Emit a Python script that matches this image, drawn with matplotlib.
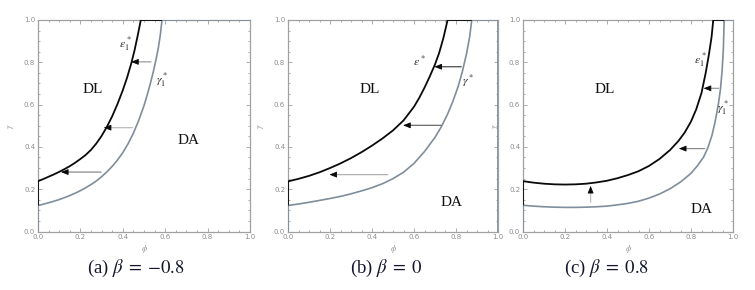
import matplotlib
matplotlib.use("Agg")
import matplotlib.pyplot as plt
import numpy as np

plt.rcParams['mathtext.fontset'] = 'stix'
plt.rcParams['font.family'] = ['DejaVu Sans']

# ---------------- data ----------------
# panel (a) beta = -0.8
a_eps_phi = [0, .025, .05, .075, .1, .125, .15, .175, .2, .225, .25, .275, .3, .325, .35, .375, .4,
             .42, .44, .455, .47, .485]
a_eps_gam = [.238, .248, .259, .270, .282, .295, .309, .325, .343, .362, .386, .416, .452, .495, .545,
             .603, .668, .727, .795, .855, .925, 1.0]
a_gam_phi = [0, .025, .05, .075, .1, .125, .15, .175, .2, .225, .25, .275, .3, .325, .35, .375, .4,
             .425, .45, .475, .5, .515, .53, .545, .557, .568, .577, .585]
a_gam_gam = [.123, .129, .136, .143, .151, .160, .170, .181, .193, .207, .222, .239, .259, .282, .308,
             .338, .373, .415, .465, .525, .595, .645, .70, .76, .815, .87, .93, 1.0]
a_arrow_tail = [(0.297, 0.281), (0.447, 0.491), (0.533, 0.802)]
a_arrow_head = [(0.108, 0.281), (0.31, 0.491), (0.439, 0.802)]

# panel (b) beta = 0
b_eps_phi = [0, .05, .1, .15, .2, .25, .3, .35, .4, .45, .5, .55, .6, .625, .65, .675, .7, .72, .74, .76]
b_eps_gam = [.237, .249, .263, .280, .300, .322, .347, .375, .406, .44, .478, .525, .59, .632, .68,
             .733, .79, .845, .915, 1.0]
b_gam_phi = [0, .05, .1, .15, .2, .25, .3, .35, .4, .45, .5, .55, .6, .65, .7, .73, .76, .785, .81,
             .83, .85, .865, .875]
b_gam_gam = [.123, .130, .138, .147, .156, .166, .178, .192, .207, .226, .25, .28, .322, .378, .445,
             .495, .555, .615, .685, .755, .84, .92, 1.0]
b_arrow_tail = [(0.475, 0.269), (0.729, 0.502), (0.825, 0.779)]
b_arrow_head = [(0.197, 0.269), (0.548, 0.502), (0.697, 0.779)]

# panel (c) beta = 0.8
c_eps_phi = [0, .05, .1, .15, .2, .25, .3, .35, .4, .45, .5, .55, .6, .65, .7, .74, .77, .8, .825,
             .85, .87, .885, .898, .906]
c_eps_gam = [.238, .231, .226, .223, .222, .223, .226, .232, .240, .252, .267, .285, .31, .343, .385,
             .428, .468, .52, .578, .655, .75, .835, .92, 1.0]
c_gam_phi = [0, .05, .1, .15, .2, .25, .3, .35, .4, .45, .5, .55, .6, .65, .7, .75, .8, .83, .86,
             .88, .9, .915, .93, .94, .948, .954, .958]
c_gam_gam = [.124, .12, .117, .115, .114, .114, .115, .117, .12, .126, .133, .143, .158, .177, .202,
             .234, .275, .31, .352, .395, .455, .52, .6, .67, .76, .86, 1.0]
c_arrow_tail = [(0.322, 0.138), (0.865, 0.392), (0.932, 0.677)]
c_arrow_head = [(0.322, 0.216), (0.742, 0.392), (0.86, 0.677)]

tick_values = [0.0, 0.2, 0.4, 0.6, 0.8, 1.0]
tick_labels = ["0.0", "0.2", "0.4", "0.6", "0.8", "1.0"]
captions = [r"(a) $\beta\;=\;{-0.8}$", r"(b) $\beta\;=\;0$", r"(c) $\beta\;=\;0.8$"]
eps_labels = [r"$\epsilon_1^*$", r"$\epsilon^*$", r"$\epsilon_1^*$"]
gam_labels = [r"$\gamma_1^*$", r"$\gamma^*$", r"$\gamma_1^*$"]

# ---------------- style ----------------
BLACK = "#0a0a0a"
GRAY = "#7f8e9c"
FRAME = "#a0a0a0"
TICKC = "#8c8c8c"
SERIF = "Liberation Serif"

W, H = 755, 290
fig = plt.figure(figsize=(W / 100, H / 100), dpi=100)

axes_px = [(38, 250), (288, 498), (523, 733)]
top_px, bot_px = 20, 231.5

panels = [
    dict(ep=a_eps_phi, eg=a_eps_gam, gp=a_gam_phi, gg=a_gam_gam, at=a_arrow_tail, ah=a_arrow_head,
         shaft=["#8a8a8a", "#bdbdbd", "#9a9a9a"],
         dl=(0.26, 0.67), da=(0.71, 0.43), el=(0.41, 0.885), gl=(0.585, 0.715), cap_x=136),
    dict(ep=b_eps_phi, eg=b_eps_gam, gp=b_gam_phi, gg=b_gam_gam, at=b_arrow_tail, ah=b_arrow_head,
         shaft=["#b0b0b0", "#6a6a6a", "#4a4a4a"],
         dl=(0.39, 0.67), da=(0.78, 0.135), el=(0.625, 0.80), gl=(0.86, 0.71), cap_x=386),
    dict(ep=c_eps_phi, eg=c_eps_gam, gp=c_gam_phi, gg=c_gam_gam, at=c_arrow_tail, ah=c_arrow_head,
         shaft=["#c0c0c0", "#8a8a8a", "#9a9a9a"],
         dl=(0.39, 0.67), da=(0.85, 0.105), el=(0.845, 0.81), gl=(0.955, 0.585), cap_x=607),
]

for i, (p, (x0, x1)) in enumerate(zip(panels, axes_px)):
    ax = fig.add_axes([x0 / W, 1 - bot_px / H, (x1 - x0) / W, (bot_px - top_px) / H])
    ax.set_xlim(0, 1)
    ax.set_ylim(0, 1)
    for s in ax.spines.values():
        s.set_color(FRAME)
        s.set_linewidth(0.9)
    ax.set_xticks(tick_values)
    ax.set_xticklabels(tick_labels)
    ax.set_yticks(tick_values)
    ax.set_yticklabels(tick_labels)
    ax.set_xticks(np.arange(0, 1.0001, 0.05), minor=True)
    ax.set_yticks(np.arange(0, 1.0001, 0.05), minor=True)
    ax.tick_params(which='both', direction='in', top=True, right=True, color=TICKC, width=0.5)
    ax.tick_params(which='major', length=3, labelsize=5, labelcolor=TICKC, pad=2)
    ax.tick_params(which='minor', length=1.5)
    ax.set_xlabel(r"$\phi$", fontsize=6, color=TICKC, labelpad=2)
    ax.set_ylabel(r"$\gamma$", fontsize=6, color=TICKC, labelpad=6)

    # gray curve gamma*, with vertical part on the left edge
    gp, gg = p['gp'], p['gg']
    ax.plot([0] + list(gp) + [1.0], [0] + list(gg) + [gg[-1]], color=GRAY, lw=1.2,
            solid_capstyle='butt', solid_joinstyle='round', zorder=3)
    # black curve eps*, vertical piece from gamma* start and flat part on top
    ep, eg = p['ep'], p['eg']
    ax.plot([0] + list(ep) + [gp[-1]], [gg[0]] + list(eg) + [eg[-1]], color=BLACK, lw=1.3,
            solid_capstyle='butt', solid_joinstyle='round', zorder=4)
    if i == 1:
        ax.plot([1.0, 1.0], [0, 1], color=GRAY, lw=2.0, zorder=3)

    # arrows
    for (tx, ty), (hx, hy), sc in zip(p['at'], p['ah'], p['shaft']):
        ax.annotate("", xy=(hx, hy), xytext=(tx, ty),
                    arrowprops=dict(arrowstyle='-', color=sc, lw=0.9, shrinkA=0, shrinkB=2),
                    zorder=5)
        dx, dy = hx - tx, hy - ty
        n = np.hypot(dx, dy)
        ax.annotate("", xy=(hx, hy), xytext=(hx - 0.03 * dx / n, hy - 0.03 * dy / n),
                    arrowprops=dict(arrowstyle='-|>,head_length=0.55,head_width=0.22',
                                    color=BLACK, lw=0.6, shrinkA=0, shrinkB=0,
                                    mutation_scale=8), zorder=6)

    ax.text(*p['dl'], "DL", fontsize=11, family=SERIF, ha='center', va='center', color="#111111")
    ax.text(*p['da'], "DA", fontsize=11, family=SERIF, ha='center', va='center', color="#111111")
    ax.text(*p['el'], eps_labels[i], fontsize=8.5, ha='center', va='center', color="#222222")
    ax.text(*p['gl'], gam_labels[i], fontsize=8.5, ha='center', va='center', color="#222222")

    fig.text(p['cap_x'] / W, 1 - 268 / H, captions[i], fontsize=13.5, family=SERIF,
             ha='center', va='center', color="#15152e")

fig.savefig("out.png", dpi=100)
